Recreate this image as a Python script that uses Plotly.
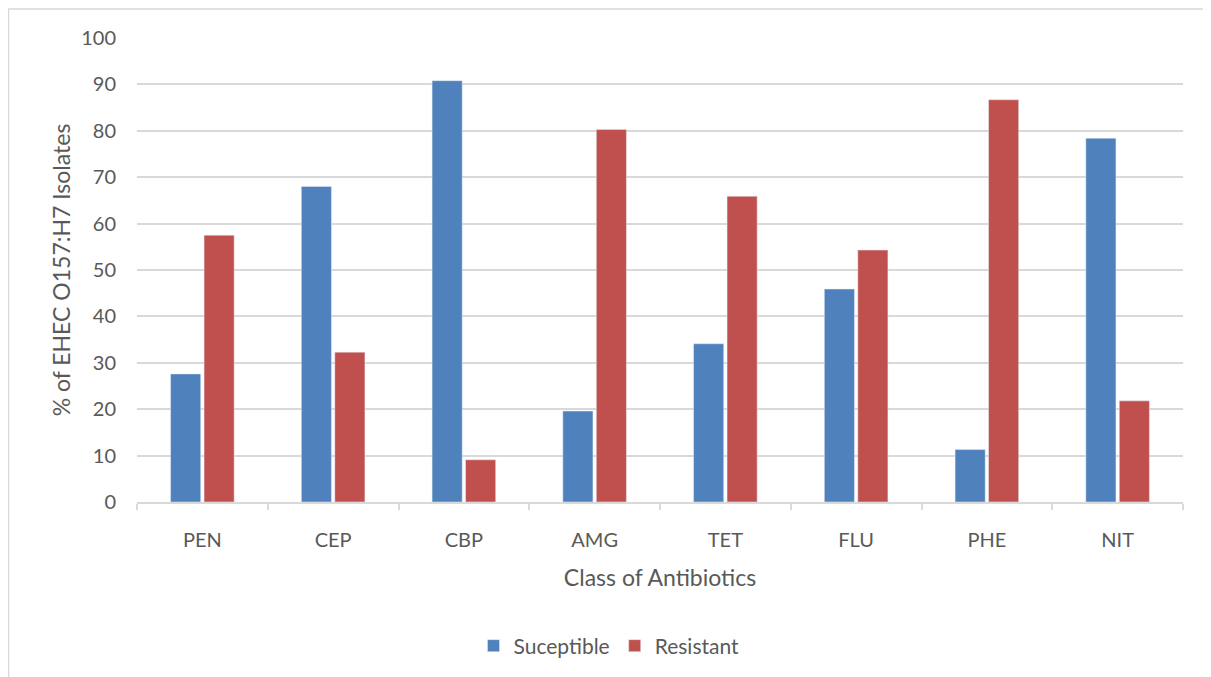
import plotly.graph_objects as go

categories = ["PEN", "CEP", "CBP", "AMG", "TET", "FLU", "PHE", "NIT"]
susceptible = [27.6, 68.0, 90.8, 19.6, 34.1, 45.9, 11.3, 78.4]
resistant = [57.5, 32.3, 9.1, 80.3, 65.9, 54.3, 86.7, 21.8]
y_ticks = [0, 10, 20, 30, 40, 50, 60, 70, 80, 90, 100]

FONT = "Lato"
GRAY = "#595959"

fig = go.Figure()
fig.add_bar(x=categories, y=susceptible, name="Suceptible", marker_color="#4F81BD")
fig.add_bar(x=categories, y=resistant, name="Resistant", marker_color="#C0504D")

# page is offset by the 8px body margin
OFF = 8
W, H = 1211 - OFF, 677 - OFF
PL, PR, PT, PB = 137, 1183, 38, 503   # plot area in page pixels
L, R, T, B = PL - OFF, 1211 - PR, PT - OFF, 677 - PB
pw, ph = PR - PL, PB - PT

def px_x(x):
    return (x - PL) / pw

def px_y(y):
    return (PB - y) / ph

fig.update_layout(
    width=W, height=H,
    margin=dict(l=L, r=R, t=T, b=B),
    paper_bgcolor="white", plot_bgcolor="white",
    barmode="group", bargap=0.488, bargroupgap=0.1,
    font=dict(family=FONT, color=GRAY, size=20),
    showlegend=True,
    legend=dict(orientation="h", x=px_x(609), xanchor="center", y=px_y(646), yanchor="middle",
                font=dict(size=21, color=GRAY), itemwidth=30, traceorder="normal"),
    xaxis=dict(
        showgrid=False, showline=True, linecolor="#d9d9d9", linewidth=1.5,
        ticks="outside", tickson="boundaries", ticklen=6, tickcolor="#d9d9d9", tickwidth=1.5,
        ticklabelstandoff=19,
        tickfont=dict(size=20, color=GRAY),
        title=dict(text="Class of Antibiotics", font=dict(size=23, color=GRAY), standoff=20),
    ),
    yaxis=dict(
        range=[0, 100], tickvals=y_ticks, showgrid=True, gridcolor="#d9d9d9", gridwidth=1.5,
        zeroline=False, showline=False, ticks="", ticklabelstandoff=20,
        tickfont=dict(size=20, color=GRAY),
        title=dict(text="% of EHEC O157:H7 Isolates", font=dict(size=23, color=GRAY), standoff=4),
    ),
    shapes=[dict(type="rect", xref="paper", yref="paper",
                 x0=px_x(8.5), x1=px_x(1216), y0=px_y(682), y1=px_y(9),
                 line=dict(color="#d9d9d9", width=1.5), layer="below")],
)

fig.write_html("out.html")
